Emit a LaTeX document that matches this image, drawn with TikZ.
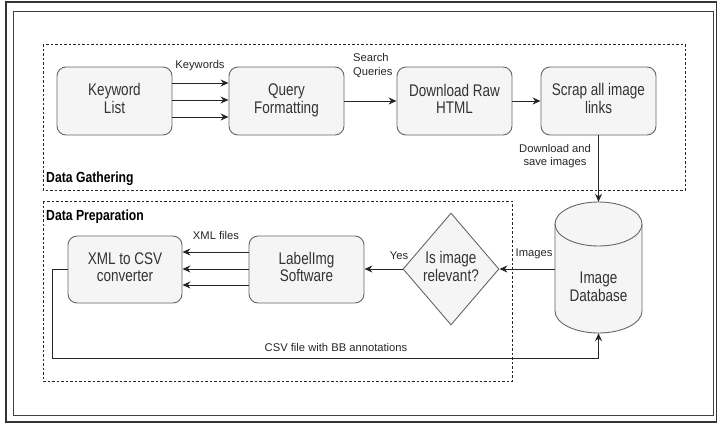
\documentclass[tikz,border=0pt]{standalone}
\usepackage{fontspec}
\setmainfont{Liberation Sans}
\usepackage{graphicx}
\usetikzlibrary{arrows.meta,shapes.geometric}
\definecolor{boxfill}{HTML}{F5F5F5}
\definecolor{boxline}{HTML}{666666}
\definecolor{txt}{HTML}{333333}
\newcommand{\boxtxt}[1]{\scalebox{1}[1.25]{\fontsize{13.5}{13.6}\selectfont\begin{tabular}{@{}c@{}}#1\end{tabular}}}
\newcommand{\grouptxt}[1]{\scalebox{1}[1.2]{\fontsize{12.2}{13}\selectfont\bfseries #1}}
\tikzset{
  proc/.style={draw=boxline, fill=boxfill, rounded corners=9pt, minimum width=115pt,
    minimum height=68pt, inner sep=0pt, line width=0.9pt, text=txt},
  decision/.style={diamond, draw=boxline, fill=boxfill, minimum width=96pt,
    minimum height=112pt, aspect=0.857, inner sep=0pt, line width=0.9pt, text=txt},
  arr/.style={draw=black!85, line width=1pt, -{Stealth[length=8pt,width=7pt]}},
  conn/.style={draw=black!85, line width=1pt},
  lbl/.style={font=\fontsize{11.2}{13.5}\selectfont, text=black!85, inner sep=0pt, align=center},
  group/.style={draw=black!85, dashed, dash pattern=on 2.5pt off 2pt, line width=0.9pt},
}
\begin{document}
\begin{tikzpicture}[x=1pt,y=-1pt]
\useasboundingbox (0,0) rectangle (717,423);
% frames
\draw[line width=1.6pt, black!80] (6,2) rectangle (716.5,422);
\draw[line width=1pt, black!75] (13,11) rectangle (713,415);
% groups
\draw[group] (43,44) rectangle (685,190);
\draw[group] (43,201) rectangle (512,381);
\node[anchor=west, inner sep=0pt] (g1) at (46,179) {\grouptxt{Data Gathering}};
\node[anchor=west, inner sep=0pt] (g2) at (46,217) {\grouptxt{Data Preparation}};
% top row
\node[proc] (kw) at (114.5,101) {\boxtxt{Keyword\\List}};
\node[proc] (qf) at (286.5,101) {\boxtxt{Query\\Formatting}};
\node[proc] (dl) at (454.5,101) {\boxtxt{Download Raw\\HTML}};
\node[proc] (sc) at (598.5,101) {\boxtxt{Scrap all image\\links}};
% database
\node[minimum width=87pt, minimum height=131pt, inner sep=0pt] (db) at (598.5,267.5) {};
\filldraw[fill=boxfill, draw=boxline, line width=0.9pt]
  (555,224) -- (555,311) arc[start angle=180, end angle=0, x radius=43.5, y radius=22]
  -- (642,224) arc[start angle=0, end angle=-180, x radius=43.5, y radius=22] -- cycle;
\draw[draw=boxline, line width=0.9pt] (555,224) arc[start angle=180, end angle=0, x radius=43.5, y radius=22];
\node[text=txt] (dbt) at (598.5,289) {\boxtxt{Image\\Database}};
% bottom row
\node[decision] (dia) at (451,269) {\boxtxt{Is image\\relevant?}};
\node[proc, minimum width=115pt, minimum height=67pt] (lab) at (306.5,269.5) {\boxtxt{LabelImg\\Software}};
\node[proc, minimum width=114pt, minimum height=67pt] (xml) at (125,269.5) {\boxtxt{XML to CSV\\converter}};
% connectors top
\draw[arr] (kw.east |- 0,83) -- (qf.west |- 0,83);
\draw[arr] (kw.east |- 0,100) -- (qf.west |- 0,100);
\draw[arr] (kw.east |- 0,117) -- (qf.west |- 0,117);
\node[lbl] (lk) at (200,66) {Keywords};
\draw[arr] (qf.east) -- (dl.west);
\node[lbl, anchor=west, align=left] (lq) at (353,65.5) {Search\\Queries};
\draw[arr] (dl.east) -- (sc.west);
\draw[arr] (sc.south) -- (db.north);
\node[lbl] (ld) at (555,156) {Download and\\save images};
% connectors bottom
\draw[arr] (db.west |- dia.east) -- (dia.east);
\node[lbl] (li) at (534,254) {Images};
\draw[arr] (dia.west) -- (lab.east |- dia.west);
\node[lbl] (ly) at (399,256) {Yes};
\draw[arr] (lab.west |- 0,252) -- (xml.east |- 0,252);
\draw[arr] (lab.west |- 0,269) -- (xml.east |- 0,269);
\draw[arr] (lab.west |- 0,285) -- (xml.east |- 0,285);
\node[lbl] (lx) at (216,235) {XML files};
\coordinate (fb) at (52,358);
\draw[arr] (xml.west) -| (fb) -| (db.south);
\node[lbl] (lc) at (336,347) {CSV file with BB annotations};
\end{tikzpicture}
\end{document}
